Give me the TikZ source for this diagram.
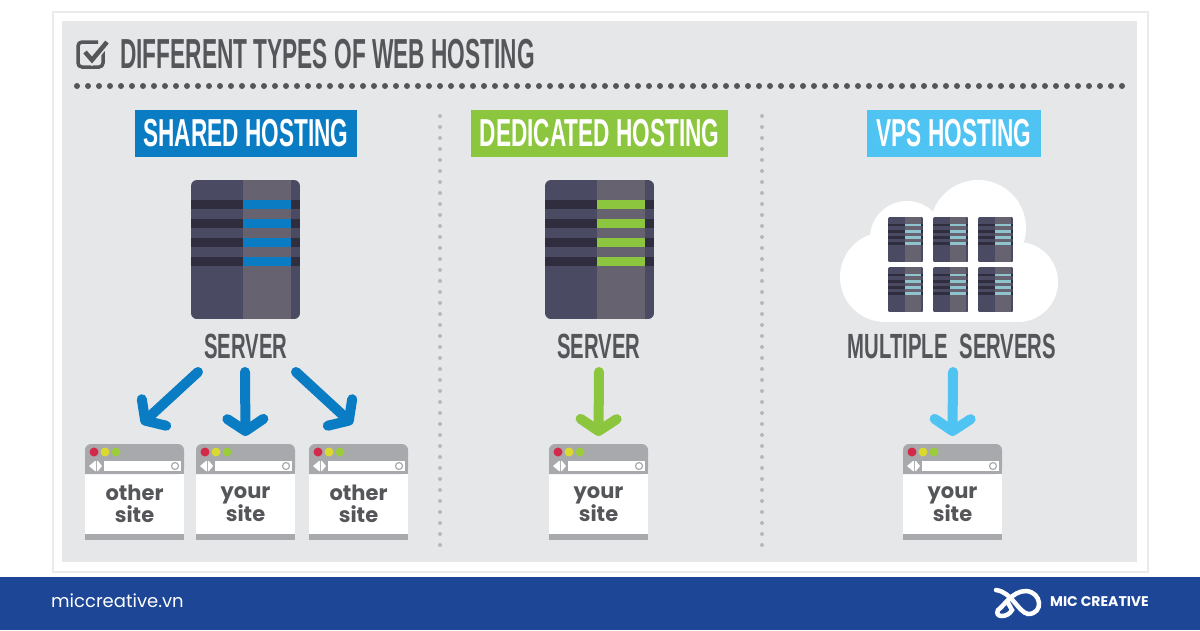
\documentclass[tikz,border=0pt]{standalone}
\usepackage{fontspec}
\usetikzlibrary{arrows.meta}
\setmainfont{Liberation Sans}
\newfontfamily\condfont[FakeStretch=0.58]{Liberation Sans}
\newfontfamily\headfont[FakeStretch=0.54]{Liberation Sans}
\newfontfamily\sitefont{Poppins}
\definecolor{inkgrey}{HTML}{55565A}
\definecolor{panelgrey}{HTML}{E6E7E8}
\definecolor{sharedblue}{HTML}{0A7CC4}
\definecolor{dedigreen}{HTML}{8CC63F}
\definecolor{vpsblue}{HTML}{4FC3F2}
\definecolor{srvleft}{HTML}{4B4A63}
\definecolor{srvright}{HTML}{66626F}
\definecolor{srvbar}{HTML}{2F2D3E}
\definecolor{minibar}{HTML}{8FC4CF}
\definecolor{headgrey}{HTML}{A7A9AC}
\definecolor{footblue}{HTML}{1D4696}
\definecolor{dotred}{HTML}{D42A4A}
\definecolor{dotyellow}{HTML}{D9D92F}
\definecolor{dotgreen}{HTML}{9CCB3B}
\tikzset{
    titletext/.style={font=\headfont\bfseries\fontsize{42}{42}\selectfont, text=inkgrey, inner sep=0pt},
    plantext/.style={font=\condfont\bfseries\fontsize{39}{39}\selectfont, text=white, minimum height=47pt, inner sep=0pt},
    srvtext/.style={font=\condfont\bfseries\fontsize{35}{35}\selectfont, text=inkgrey, inner sep=0pt},
    sitetext/.style={font=\sitefont\bfseries\fontsize{21}{22}\selectfont, text=inkgrey, align=center, inner sep=0pt},
    hostarrow/.style={line width=10pt, line cap=round, -{Straight Barb[round, length=12pt, width=36pt, line width=10pt]}},
    dotrow/.style={dash pattern=on 0pt off 11pt, line cap=round},
    pics/servbox/.style 2 args={code={
        \begin{scope}
            \clip[rounded corners=#2] (0,0) rectangle (109,139);
            \fill[srvleft] (0,0) rectangle (52,139);
            \fill[srvright] (52,0) rectangle (100,139);
            \fill[srvleft] (100,0) rectangle (109,139);
            \foreach \y in {20,39,58,77} {
                \fill[srvbar] (0,\y) rectangle (52,\y+9);
                \fill[#1] (52,\y) rectangle (100,\y+9);
                \fill[srvbar] (100,\y) rectangle (109,\y+9);
            }
        \end{scope}
    }},
    pics/sitebox/.style={code={
        \coordinate (-top) at (49.5,0);
        \fill[white] (0,30) rectangle (99,90);
        \fill[headgrey, rounded corners=6pt] (0,30) -- (0,0) -- (99,0) -- (99,30) [sharp corners] -- cycle;
        \fill[headgrey] (0,30) rectangle (99,20);
        \fill[headgrey] (0,90) rectangle (99,96);
        \fill[dotred] (9,8) circle (4.5);
        \fill[dotyellow] (20,8) circle (4.5);
        \fill[dotgreen] (31,8) circle (4.5);
        \fill[white] (4,22) -- (10,17) -- (11,17) -- (11,27) -- (10,27) -- cycle;
        \fill[white] (17,22) -- (13,17) -- (12,17) -- (12,27) -- (13,27) -- cycle;
        \fill[white] (19,17) rectangle (96,27);
        \draw[headgrey, line width=1.2pt] (90,22) circle (3.5);
        \node[sitetext] (-body) at (49.5,60) {#1};
    }},
}
\begin{document}
\begin{tikzpicture}[x=1pt, y=-1pt]
    \useasboundingbox (0,0) rectangle (1200,630);
    \fill[white] (0,0) rectangle (1200,630);

    % Card
    \draw[black!8, fill=white, line width=1.5pt] (53,12) rectangle (1148,572);
    \fill[panelgrey] (62,21) rectangle (1137,562);

    % Title
    \draw[inkgrey, line width=3.5pt, rounded corners=4pt] (103,50) -- (103,67) -- (78,67) -- (78,42) -- (98,42);
    \draw[panelgrey, line width=8pt] (85,52) -- (92,60) -- (107,42);
    \draw[inkgrey, line width=4.5pt] (85,52) -- (92,60) -- (107,42);
    \node[titletext, anchor=west] (title) at (120,54) {DIFFERENT TYPES OF WEB HOSTING};
    \draw[inkgrey, line width=6pt, dotrow] (77,86) -- (1124,86);

    % Separators
    \draw[black!28, line width=4pt, dotrow] (440,116) -- (440,546);
    \draw[black!28, line width=4pt, dotrow] (762,116) -- (762,546);

    % Shared hosting
    \node[plantext, fill=sharedblue, minimum width=222pt] (planA) at (246,133.5) {SHARED HOSTING};
    \pic at (191,180) {servbox={sharedblue}{6pt}};
    \node[srvtext] (lblA) at (246,346) {SERVER};
    \pic (siteA) at (85,444) {sitebox={other\\site}};
    \pic (siteB) at (196,444) {sitebox={your\\site}};
    \pic (siteC) at (309,444) {sitebox={other\\site}};
    \draw[hostarrow, sharedblue] ([shift={(-48,26)}]lblA.center) -- ([shift={(7,-20)}]siteA-top);
    \draw[hostarrow, sharedblue] ([shift={(-1,26)}]lblA.center) -- ([shift={(0,-8)}]siteB-top);
    \draw[hostarrow, sharedblue] ([shift={(50,26)}]lblA.center) -- ([shift={(-6,-20)}]siteC-top);

    % Dedicated hosting
    \node[plantext, fill=dedigreen, minimum width=257pt] (planB) at (599.5,133.5) {DEDICATED HOSTING};
    \pic at (545,180) {servbox={dedigreen}{6pt}};
    \node[srvtext] (lblB) at (599,346) {SERVER};
    \pic (siteD) at (549,444) {sitebox={your\\site}};
    \draw[hostarrow, dedigreen] ([shift={(0,26)}]lblB.center) -- ([shift={(0,-8)}]siteD-top);

    % VPS hosting
    \node[plantext, fill=vpsblue, minimum width=174pt] (planC) at (954,133.5) {VPS HOSTING};
    \fill[white] (978,228) circle (48);
    \fill[white] (907,238) circle (37);
    \fill[white] (885,277) circle (45);
    \fill[white] (1018,282) circle (40);
    \fill[white] (885,240) rectangle (1018,322);
    \foreach \col in {888,933,978} {
        \foreach \row in {217,267} {
            \pic[scale=0.325] at (\col,\row) {servbox={minibar}{2pt}};
        }
    }
    \node[srvtext] (lblC) at (952,346) {MULTIPLE\hspace{6pt} SERVERS};
    \pic (siteE) at (903,444) {sitebox={your\\site}};
    \draw[hostarrow, vpsblue] ([shift={(1,26)}]lblC.center) -- ([shift={(0,-8)}]siteE-top);

    % Footer
    \fill[footblue] (0,577) rectangle (1200,630);
    \node[font=\sitefont\fontsize{18}{18}\selectfont, text=white, anchor=west, inner sep=0pt] (siteurl) at (51,601) {miccreative.vn};
    \draw[white, line width=4.5pt, line cap=round]
        (996,590) .. controls (1012,592) and (1018,612) .. (1028,614)
        .. controls (1044,614) and (1042,592) .. (1026,591)
        .. controls (1012,591) and (1004,606) .. (998,610)
        .. controls (994,618) and (1008,618) .. (1012,610) -- (1007,601);
    \node[font=\sitefont\bfseries\fontsize{14}{14}\selectfont, text=white, anchor=west, inner sep=0pt] (brand) at (1050,602) {MIC CREATIVE};
\end{tikzpicture}
\end{document}
